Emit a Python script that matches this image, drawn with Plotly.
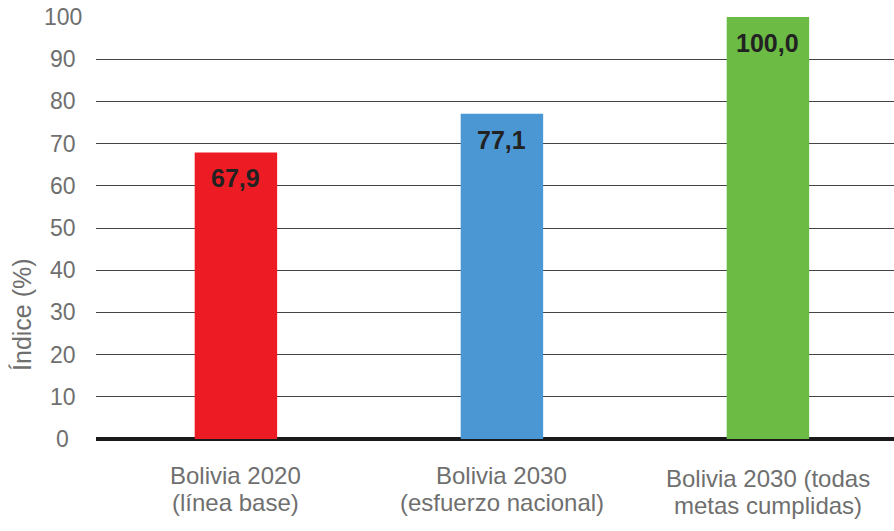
import plotly.graph_objects as go

cat_line1 = ["Bolivia 2020", "Bolivia 2030", "Bolivia 2030 (todas"]
cat_line2 = ["(línea base)", "(esfuerzo nacional)", "metas cumplidas)"]
values = [67.9, 77.1, 100.0]
value_labels = ["67,9", "77,1", "100,0"]
colors = ["#ED1C24", "#4B97D3", "#6BBB44"]
y_ticks = [0, 10, 20, 30, 40, 50, 60, 70, 80, 90, 100]

FONT = "Liberation Sans, Arial, Helvetica, sans-serif"
GRAY = "#6f6f6f"

xs = list(range(len(values)))

fig = go.Figure(go.Bar(
    x=xs,
    y=values,
    marker=dict(color=colors, line=dict(width=0)),
    width=0.31,
    hoverinfo="skip",
))

annotations = []
# value labels inside bar tops
for xi, v, lab in zip(xs, values, value_labels):
    annotations.append(dict(
        x=xi, y=v, xref="x", yref="y", text=lab, showarrow=False,
        xanchor="center", yanchor="middle", yshift=-26,
        font=dict(family=FONT, size=25, color="#222222", weight="bold"),
    ))
# category labels (two lines each)
shift1 = [-36, -36, -39]
shift2 = [-63, -63, -66]
for xi, l1, l2, s1, s2 in zip(xs, cat_line1, cat_line2, shift1, shift2):
    annotations.append(dict(
        x=xi, y=0, xref="x", yref="paper", text=l1, showarrow=False,
        xanchor="center", yanchor="middle", yshift=s1,
        font=dict(family=FONT, size=24, color=GRAY),
    ))
    annotations.append(dict(
        x=xi, y=0, xref="x", yref="paper", text=l2, showarrow=False,
        xanchor="center", yanchor="middle", yshift=s2,
        font=dict(family=FONT, size=24, color=GRAY),
    ))
# y tick labels, centred in their column
for t in y_ticks:
    annotations.append(dict(
        x=-0.0414, y=t, xref="paper", yref="y", text=str(t), showarrow=False,
        xanchor="center", yanchor="middle",
        font=dict(family=FONT, size=23, color=GRAY),
    ))
# y-axis title
annotations.append(dict(
    x=-0.0927, y=0.294, xref="paper", yref="paper", text="Índice (%)",
    showarrow=False, textangle=-90, xanchor="center", yanchor="middle",
    font=dict(family=FONT, size=25, color=GRAY),
))

fig.update_layout(
    width=894, height=531,
    margin=dict(l=96, r=0, t=17, b=92),
    paper_bgcolor="white", plot_bgcolor="white",
    showlegend=False,
    hovermode=False,
    font=dict(family=FONT, color=GRAY, size=23),
    annotations=annotations,
    xaxis=dict(
        range=[-0.526, 2.474],
        tickvals=xs,
        showticklabels=False,
        showgrid=False, zeroline=False, showline=False, ticks="",
    ),
    yaxis=dict(
        range=[0, 100],
        tickvals=y_ticks,
        showticklabels=False,
        showgrid=True, gridcolor="#444444", gridwidth=1.4,
        zeroline=True, zerolinecolor="#1a1a1a", zerolinewidth=3.5,
        ticks="",
    ),
)

fig.write_html(
    "out.html",
    config={"displayModeBar": False},
    post_script="document.body.style.margin='0px';",
)
